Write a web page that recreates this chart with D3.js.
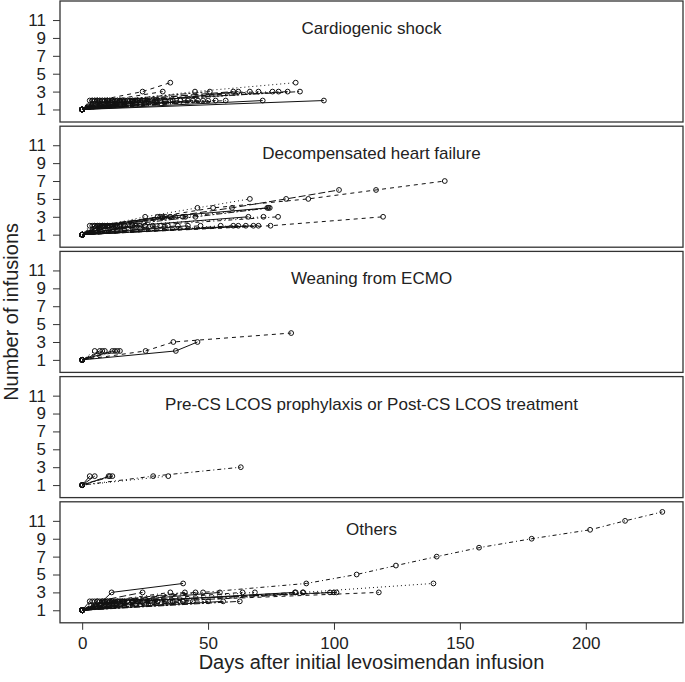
<!DOCTYPE html>
<html>
<head>
<meta charset="utf-8">
<script src="https://cdn.jsdelivr.net/npm/d3@7"></script>
<style>
  html, body { margin: 0; padding: 0; background: #fff; }
  svg { display: block; }
  text { font-family: "Liberation Sans", Arial, sans-serif; fill: #222; }
</style>
</head>
<body>
<div id="chart"></div>
<script>
// ---------------- DATA ----------------
// Each patient: days of consecutive levosimendan infusions (infusion number = position + 1)
const panelTitles = [
  "Cardiogenic shock",
  "Decompensated heart failure",
  "Weaning from ECMO",
  "Pre-CS LCOS prophylaxis or Post-CS LCOS treatment",
  "Others"
];

const csDays = [
  [0, 96], [0, 6, 24, 35], [0, 14, 44.8, 84.8], [0, 57], [0, 25, 81.6], [0, 20, 86.5],
  [0, 71.7], [0, 10, 32], [0, 18, 75.6], [0, 12, 66.6], [0, 15, 60], [0, 11, 50.7],
  [0, 30, 62], [0, 22, 70], [0, 35, 78],
  [0, 3], [0, 4], [0, 4], [0, 5], [0, 5], [0, 6], [0, 6], [0, 7], [0, 7], [0, 8], [0, 8],
  [0, 9], [0, 9], [0, 10], [0, 10], [0, 11], [0, 12], [0, 12], [0, 13], [0, 14], [0, 15],
  [0, 15], [0, 16], [0, 17], [0, 18], [0, 19], [0, 20], [0, 21], [0, 22], [0, 23], [0, 24],
  [0, 26], [0, 27], [0, 29], [0, 31], [0, 33], [0, 36], [0, 39], [0, 42], [0, 44], [0, 46],
  [0, 48], [0, 50], [0, 53]
];

const dhfDays = [
  [0, 7, 32, 74], [0, 10, 30, 52, 89.8, 116.7, 144], [0, 8, 25, 45.8, 66.6], [0, 10, 40, 73.5],
  [0, 12, 35, 59.5, 81, 102], [0, 14, 45, 74.5], [0, 20, 66], [0, 74.8, 119.5],
  [0, 15, 72], [0, 25, 77.8], [0, 5, 31], [0, 6, 33], [0, 8, 37], [0, 9, 41],
  [0, 55], [0, 60], [0, 65], [0, 70], [0, 68], [0, 62],
  [0, 3], [0, 4], [0, 5], [0, 6], [0, 7], [0, 8], [0, 9], [0, 10], [0, 11], [0, 12], [0, 13],
  [0, 14], [0, 15], [0, 17], [0, 19], [0, 21], [0, 23], [0, 25], [0, 28], [0, 31], [0, 34],
  [0, 38], [0, 42], [0, 47]
];

const ecmoDays = [
  [0, 37.2, 45.8], [0, 25.2, 36.2, 83],
  [0, 5], [0, 7], [0, 8], [0, 9], [0, 12], [0, 13], [0, 14], [0, 15]
];

const lcosDays = [
  [0, 5], [0, 10.5], [0, 34.2], [0, 28.2, 63], [0, 11], [0, 12], [0, 3]
];

const otherDays = [
  [0, 8, 11.7, 40.1], [0, 30, 117.8], [0, 20, 87.6, 139.5],
  [0, 15, 48, 89, 109, 124.6, 140.8, 157.6, 178.5, 201.7, 215.6, 230.4],
  [0, 12, 101], [0, 18, 98.4], [0, 22, 84.5], [0, 26, 84.8], [0, 40, 87.8], [0, 35, 100],
  [0, 6, 24], [0, 10, 40.8], [0, 14, 54.7], [0, 16, 63.7], [0, 20, 68.6], [0, 9, 35], [0, 11, 45],
  [0, 62.6],
  [0, 3], [0, 4], [0, 5], [0, 6], [0, 7], [0, 8], [0, 9], [0, 10], [0, 11], [0, 12], [0, 13],
  [0, 14], [0, 16], [0, 18], [0, 20], [0, 22], [0, 24], [0, 27], [0, 30], [0, 33], [0, 36],
  [0, 40], [0, 44], [0, 50], [0, 56]
];

const panelData = [csDays, dhfDays, ecmoDays, lcosDays, otherDays];

const xTicks = [0, 50, 100, 150, 200];
const yTicks = [1, 3, 5, 7, 9, 11];
const xLabel = "Days after initial levosimendan infusion";
const yLabel = "Number of infusions";

// ---------------- LAYOUT / STYLE ----------------
const W = 685, H = 682;
const left = 60, right = 683;
const top0 = 1, step = 125.2, panelH = 121;
const dashes = ["", "4,4", "1,3", "1,3,4,3", "7,3", "2,2,6,2"];
const ink = "#111";
const fontFam = '"Liberation Sans", Arial, sans-serif';

const svg = d3.select("#chart").append("svg")
  .attr("width", W).attr("height", H);
svg.append("rect").attr("width", W).attr("height", H).attr("fill", "#fff");

const x = d3.scaleLinear().domain([-8.8, 238.6]).range([left, right]);

panelData.forEach((patients, k) => {
  const top = top0 + k * step;
  const y = d3.scaleLinear().domain([-0.4, 13.13]).range([top + panelH, top]);
  const g = svg.append("g");

  // y axis
  const ya = g.append("g").attr("transform", `translate(${left},0)`)
    .call(d3.axisLeft(y).tickValues(yTicks).tickSize(7).tickPadding(7).tickFormat(d3.format("d")));
  ya.select(".domain").remove();
  ya.selectAll(".tick line").attr("stroke", "#333");
  ya.selectAll(".tick text").attr("font-size", 17).style("font-family", fontFam).attr("fill", "#222");

  // lines
  const line = d3.line().x(d => x(d.day)).y(d => y(d.n));
  patients.forEach((days, i) => {
    const pts = days.map((d, j) => ({ day: d, n: j + 1 }));
    g.append("path").datum(pts)
      .attr("d", line)
      .attr("fill", "none")
      .attr("stroke", ink)
      .attr("stroke-width", 1)
      .attr("stroke-dasharray", dashes[i % dashes.length]);
    g.selectAll(null).data(pts).enter().append("circle")
      .attr("cx", d => x(d.day)).attr("cy", d => y(d.n))
      .attr("r", 2.4)
      .attr("fill", "none")
      .attr("stroke", ink)
      .attr("stroke-width", 1);
  });

  // panel title
  g.append("text")
    .attr("x", (left + right) / 2).attr("y", top + 33)
    .attr("text-anchor", "middle")
    .attr("font-size", 17)
    .text(panelTitles[k]);

  // box
  g.append("rect")
    .attr("x", left).attr("y", top).attr("width", right - left).attr("height", panelH)
    .attr("fill", "none").attr("stroke", "#333").attr("stroke-width", 1.3);

  if (k === panelData.length - 1) {
    const xa = g.append("g").attr("transform", `translate(0,${top + panelH})`)
      .call(d3.axisBottom(x).tickValues(xTicks).tickSize(7).tickPadding(7).tickFormat(d3.format("d")));
    xa.select(".domain").remove();
    xa.selectAll(".tick line").attr("stroke", "#333");
    xa.selectAll(".tick text").attr("font-size", 17).style("font-family", fontFam).attr("fill", "#222");
  }
});

// axis titles
svg.append("text")
  .attr("x", (left + right) / 2).attr("y", 669)
  .attr("text-anchor", "middle")
  .attr("font-size", 20)
  .text(xLabel);

svg.append("text")
  .attr("transform", `translate(18,${(top0 + top0 + 4 * step + panelH) / 2}) rotate(-90)`)
  .attr("text-anchor", "middle")
  .attr("font-size", 20)
  .text(yLabel);
</script>
</body>
</html>
